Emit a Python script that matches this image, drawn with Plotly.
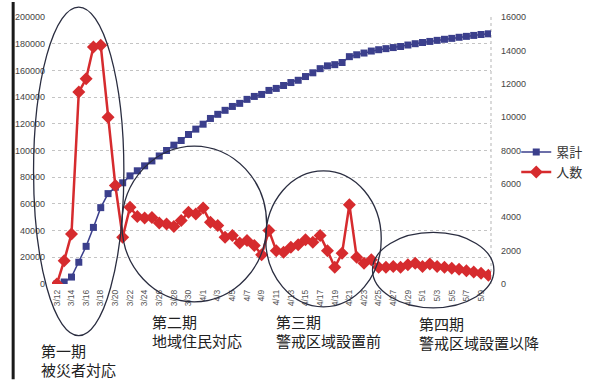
import plotly.graph_objects as go

# Daily dates (3/12 - 5/10); every other date is labelled on the axis
dates = [
    "3/12", "3/13", "3/14", "3/15", "3/16", "3/17", "3/18", "3/19", "3/20", "3/21",
    "3/22", "3/23", "3/24", "3/25", "3/26", "3/27", "3/28", "3/29", "3/30", "3/31",
    "4/1", "4/2", "4/3", "4/4", "4/5", "4/6", "4/7", "4/8", "4/9", "4/10",
    "4/11", "4/12", "4/13", "4/14", "4/15", "4/16", "4/17", "4/18", "4/19", "4/20",
    "4/21", "4/22", "4/23", "4/24", "4/25", "4/26", "4/27", "4/28", "4/29", "4/30",
    "5/1", "5/2", "5/3", "5/4", "5/5", "5/6", "5/7", "5/8", "5/9", "5/10",
]

# 人数 (daily count, right axis)
daily = [
    0, 1400, 3000, 11500, 12300, 14200, 14300, 10000, 5900, 2800,
    4600, 4050, 3950, 3980, 3650, 3600, 3450, 3800, 4300, 4200,
    4550, 3700, 3500, 2800, 2900, 2450, 2600, 2300, 1750, 3200,
    2000, 1900, 2200, 2350, 2650, 2500, 2900, 2000, 1000, 1850,
    4750, 1600, 1250, 1450, 1000, 1000, 1050, 1000, 1150, 1250,
    1050, 1200, 1050, 1000, 950, 880, 800, 720, 650, 520,
]

# 累計 (cumulative total, left axis)
cumulative = [
    0, 1500, 5200, 16300, 28200, 42400, 57200, 67700, 72500, 75800,
    81000, 84800, 88500, 92200, 95900, 100000, 104000, 107500, 112000, 116000,
    119700, 124000, 127100, 130100, 133000, 135300, 138300, 140500, 142000, 145000,
    146500, 148700, 150900, 152600, 155400, 158200, 161300, 163400, 164300, 165900,
    170300, 171700, 173000, 174500, 175500, 176300, 177100, 177900, 179000, 180000,
    180900, 181700, 182500, 183300, 184000, 184800, 185500, 186200, 186900, 187400,
]

phase_titles = ["第一期", "第二期", "第三期", "第四期"]
phase_names = ["被災者対応", "地域住民対応", "警戒区域設置前", "警戒区域設置以降"]

x = list(range(len(dates)))
tick_idx = x[::2]
tick_txt = dates[::2]

BLUE = "#3b3f8c"
RED = "#d62b2e"
INK = "#2a2d40"

fig = go.Figure()
fig.add_trace(go.Scatter(
    x=x, y=cumulative, name="累計", mode="lines+markers",
    line=dict(color=BLUE, width=1.5),
    marker=dict(symbol="square", size=7, color=BLUE),
    yaxis="y",
))
fig.add_trace(go.Scatter(
    x=x, y=daily, name="人数", mode="lines+markers",
    line=dict(color=RED, width=2.5),
    marker=dict(symbol="diamond", size=10, color=RED),
    yaxis="y2",
))

# plot area in pixels: x 52..504, y 15..284
L, R, T, B = 52, 504, 15, 284
W, H = 600, 380


def px(v):
    return (v - L) / (R - L)


def py(v):
    return (B - v) / (B - T)


shapes = []
# phase ellipses (pixel bounds)
ellipses = [(33, 5, 126, 336), (124, 145, 273, 302), (272, 170, 391, 307), (382, 232, 507, 308)]
for x0, y0, x1, y1 in ellipses:
    shapes.append(dict(type="circle", xref="paper", yref="paper",
                       x0=px(x0), x1=px(x1), y0=py(y1), y1=py(y0),
                       line=dict(color=INK, width=1.3), layer="above"))
# right-hand dotted frame line
shapes.append(dict(type="line", xref="paper", yref="paper", x0=1, x1=1, y0=0, y1=1,
                   line=dict(color="#b5b5b5", width=1, dash="dot"), layer="below"))
# page edge line on the left
shapes.append(dict(type="line", xref="paper", yref="paper", x0=px(12), x1=px(12),
                   y0=py(0), y1=py(380), line=dict(color="#1a1a1a", width=3)))

# phase captions: title line and description line
annotations = []
label_pos = [(40, 351, 370), (154, 321.5, 340.5), (282, 321.5, 340.5), (429, 323.5, 342.5)]
for (lx, ty, ny), title, name in zip(label_pos, phase_titles, phase_names):
    for txt, yy in ((title, ty), (name, ny)):
        annotations.append(dict(text=txt, xref="paper", yref="paper", x=px(lx), y=py(yy),
                                xanchor="left", yanchor="middle", showarrow=False,
                                borderpad=0,
                                font=dict(family="Noto Sans CJK JP", size=15, color="#222")))

fig.update_layout(
    width=W, height=H,
    margin=dict(l=L, r=W - R, t=T, b=H - B, pad=0),
    paper_bgcolor="white", plot_bgcolor="white",
    font=dict(family="Liberation Sans, Arial", color="#444"),
    showlegend=True,
    legend=dict(x=px(530), y=py(136), xanchor="left", yanchor="top",
                font=dict(family="Noto Sans CJK JP", size=13, color="#333"),
                bgcolor="rgba(0,0,0,0)", itemwidth=30, tracegroupgap=0),
    xaxis=dict(range=[-(57 - L) / 7.53, (R - 57) / 7.53], tickmode="array",
               tickvals=tick_idx, ticktext=tick_txt, tickangle=-90,
               tickfont=dict(size=8.5, color="#555"), showgrid=False,
               zeroline=False, showline=False, ticks="", ticklabelstandoff=3),
    yaxis=dict(range=[0, 200000], dtick=20000, tickformat="d",
               showgrid=True, gridcolor="#c4c4c4", griddash="dot", gridwidth=1,
               zeroline=False, showline=False, ticks="",
               tickfont=dict(size=9, color="#444"), ticklabelstandoff=6),
    yaxis2=dict(range=[0, 16000], dtick=2000, tickformat="d", overlaying="y",
                side="right", showgrid=False, zeroline=False, showline=False,
                ticks="", tickfont=dict(size=9, color="#444"), ticklabelstandoff=9),
    shapes=shapes,
    annotations=annotations,
)

fig.write_html("out.html")
